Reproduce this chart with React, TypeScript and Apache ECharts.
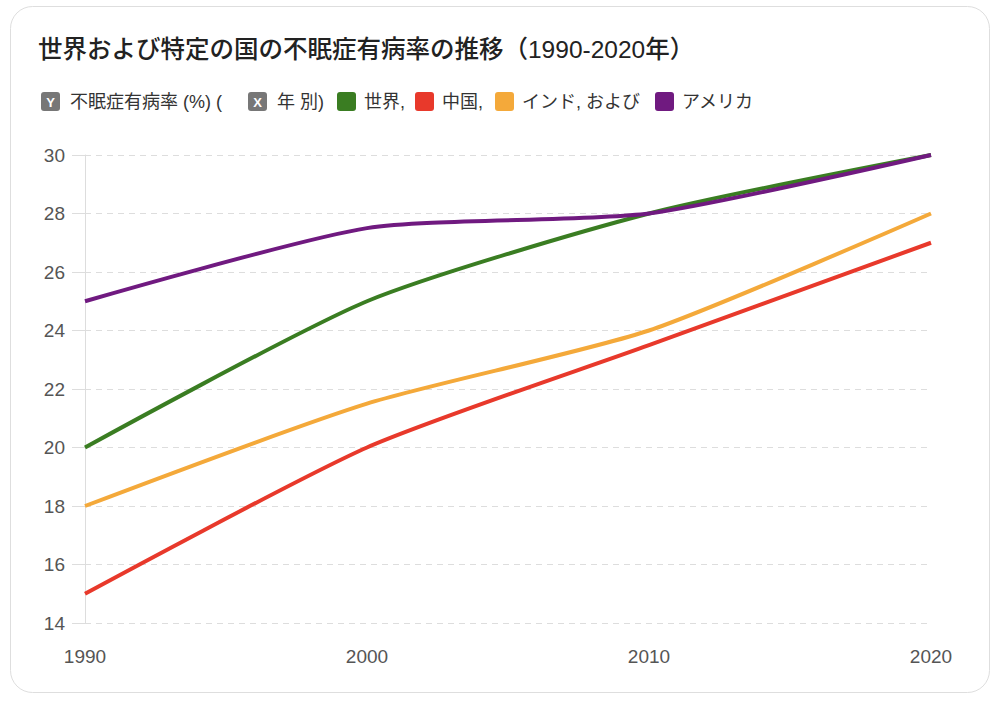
import React, { useEffect, useRef } from "react";
import * as echarts from "echarts";

const years = ["1990", "2000", "2010", "2020"];
const world = [20, 25, 28, 30];
const china = [15, 20, 23.5, 27];
const india = [18, 21.5, 24, 28];
const usa = [25, 27.5, 28, 30];
const seriesNames = ["世界", "中国", "インド", "アメリカ"];
const colors = ["#3a7d22", "#e8392b", "#f4a93a", "#701a80"];
const titleText = "世界および特定の国の不眠症有病率の推移（1990-2020年）";

const FONT = "'Liberation Sans', 'Noto Sans CJK JP', sans-serif";

export default function App() {
  const ref = useRef<HTMLDivElement>(null);
  useEffect(() => {
    const chart = echarts.init(ref.current!, null, { renderer: "svg" });
    const legendY = 102;
    const icon = (x: number, fill: string, letter?: string) => {
      const els: any[] = [
        { type: "rect", shape: { x, y: legendY - 10, width: 19, height: 19, r: 3 }, style: { fill } },
      ];
      if (letter)
        els.push({
          type: "text",
          style: { text: letter, x: x + 9.5, y: legendY, align: "center", verticalAlign: "middle", fill: "#fff", font: `bold 13px ${FONT}` },
        });
      return els;
    };
    const ltext = (x: number, t: string) => ({
      type: "text",
      style: { text: t, x, y: legendY, verticalAlign: "middle", fill: "#333", font: `18px ${FONT}` },
    });
    const data = [world, china, india, usa];
    chart.setOption({
      animation: false,
      backgroundColor: "#fff",
      textStyle: { fontFamily: FONT },
      grid: { left: 85, right: 69, top: 155, bottom: 79 },
      xAxis: {
        type: "category",
        data: years,
        boundaryGap: false,
        axisLine: { show: false },
        axisTick: { show: false },
        axisLabel: { color: "#555", fontSize: 19, margin: 24, fontFamily: FONT },
        splitLine: { show: false },
      },
      yAxis: {
        type: "value",
        min: 14,
        max: 30,
        interval: 2,
        axisLine: { show: true, lineStyle: { color: "#ddd", width: 1 } },
        axisTick: { show: true, length: 13, lineStyle: { color: "#ddd" } },
        axisLabel: { color: "#555", fontSize: 19, margin: 20, fontFamily: FONT },
        splitLine: { show: true, lineStyle: { color: "#ddd", type: [6, 5], width: 1 } },
      },
      series: data.map((d, i) => ({
        name: seriesNames[i],
        type: "line",
        data: d,
        smooth: 0.22,
        symbol: "none",
        lineStyle: { color: colors[i], width: 4 },
        itemStyle: { color: colors[i] },
        z: 2 + i,
      })),
      graphic: [
        {
          type: "rect",
          z: -10,
          silent: true,
          shape: { x: 10.5, y: 6.5, width: 979, height: 686, r: 22 },
          style: { fill: "#fff", stroke: "#dedede", lineWidth: 1 },
        },
        {
          type: "text",
          style: { text: titleText, x: 38, y: 49, verticalAlign: "middle", fill: "#222", font: `500 24.5px ${FONT}` },
        },
        ...icon(41, "#777", "Y"),
        ltext(70, "不眠症有病率 (%) ("),
        ...icon(248, "#777", "X"),
        ltext(277, "年 別)"),
        ...icon(337, colors[0]),
        ltext(364, "世界,"),
        ...icon(415, colors[1]),
        ltext(442, "中国,"),
        ...icon(495, colors[2]),
        ltext(522, "インド, および"),
        ...icon(655, colors[3]),
        ltext(682, "アメリカ"),
      ],
    });
    return () => chart.dispose();
  }, []);
  return (
    <div style={{ position: "absolute", left: 0, top: 0, width: 1000, height: 702, background: "#fff" }}>
      <div ref={ref} style={{ width: 1000, height: 702 }} />
    </div>
  );
}
